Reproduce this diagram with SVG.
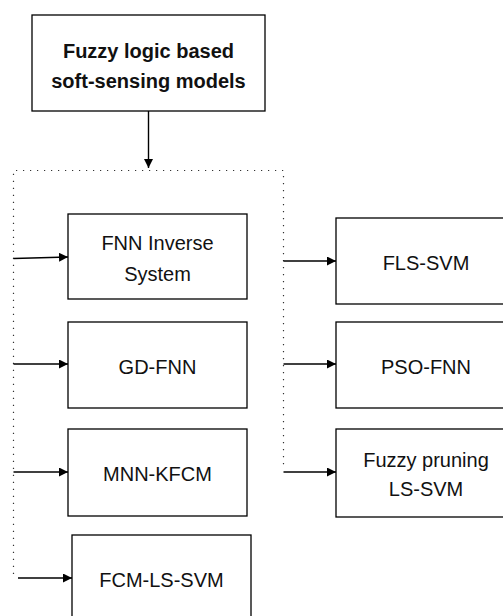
<svg xmlns="http://www.w3.org/2000/svg" width="503" height="616" viewBox="0 0 503 616">
  <defs>
    <marker id="arrow" viewBox="0 0 10 10" refX="10" refY="5" markerWidth="9" markerHeight="9" markerUnits="userSpaceOnUse" orient="auto">
      <path d="M0,0 L10,5 L0,10 Z" fill="#000"/>
    </marker>
    <style>
      .box { fill: #fff; stroke: #000; stroke-width: 1.3; }
      .label { font-family: "Liberation Sans", Arial, sans-serif; font-size: 20px; fill: #111; text-anchor: middle; }
      .title { font-weight: bold; }
      .link { fill: none; stroke: #000; stroke-width: 1.4; marker-end: url(#arrow); }
      .dots { fill: none; stroke: #333; stroke-width: 1.2; stroke-dasharray: 1.2 5.8; }
    </style>
  </defs>
  <rect width="503" height="616" fill="#fff"/>

  <!-- dotted bracket grouping the model branches -->
  <g id="connectors">
    <path class="dots" d="M13.5,574 L13.5,170.5 L283.5,170.5 L283.5,470"/>
    <line class="link" x1="148.5" y1="111" x2="148.5" y2="168"/>
    <line class="link" x1="13.5" y1="258.5" x2="68" y2="257"/>
    <line class="link" x1="13.5" y1="364" x2="68" y2="364"/>
    <line class="link" x1="13.5" y1="472" x2="68" y2="472"/>
    <line class="link" x1="18" y1="578" x2="72" y2="578"/>
    <line class="link" x1="283.5" y1="261" x2="336" y2="261"/>
    <line class="link" x1="283.5" y1="364" x2="336" y2="364"/>
    <line class="link" x1="283.5" y1="472" x2="336" y2="472"/>
  </g>

  <g id="root">
    <rect class="box" x="32" y="15" width="233" height="96"/>
    <text class="label title" x="148.5" y="58">Fuzzy logic based</text>
    <text class="label title" x="148.5" y="88">soft-sensing models</text>
  </g>

  <g id="fnn-inverse">
    <rect class="box" x="68" y="214" width="179" height="85"/>
    <text class="label" x="157.5" y="250">FNN Inverse</text>
    <text class="label" x="157.5" y="280.5">System</text>
  </g>

  <g id="gd-fnn">
    <rect class="box" x="68" y="322" width="179" height="86"/>
    <text class="label" x="157.5" y="374">GD-FNN</text>
  </g>

  <g id="mnn-kfcm">
    <rect class="box" x="68" y="429" width="179" height="87"/>
    <text class="label" x="157.5" y="481">MNN-KFCM</text>
  </g>

  <g id="fcm-ls-svm">
    <rect class="box" x="72" y="535" width="179" height="92"/>
    <text class="label" x="161.5" y="586.5">FCM-LS-SVM</text>
  </g>

  <g id="fls-svm">
    <rect class="box" x="336" y="218" width="180" height="86"/>
    <text class="label" x="426" y="270">FLS-SVM</text>
  </g>

  <g id="pso-fnn">
    <rect class="box" x="336" y="322" width="180" height="86"/>
    <text class="label" x="426" y="373.5">PSO-FNN</text>
  </g>

  <g id="fuzzy-pruning-ls-svm">
    <rect class="box" x="336" y="429" width="180" height="88"/>
    <text class="label" x="426" y="466.5">Fuzzy pruning</text>
    <text class="label" x="426" y="496">LS-SVM</text>
  </g>
</svg>
